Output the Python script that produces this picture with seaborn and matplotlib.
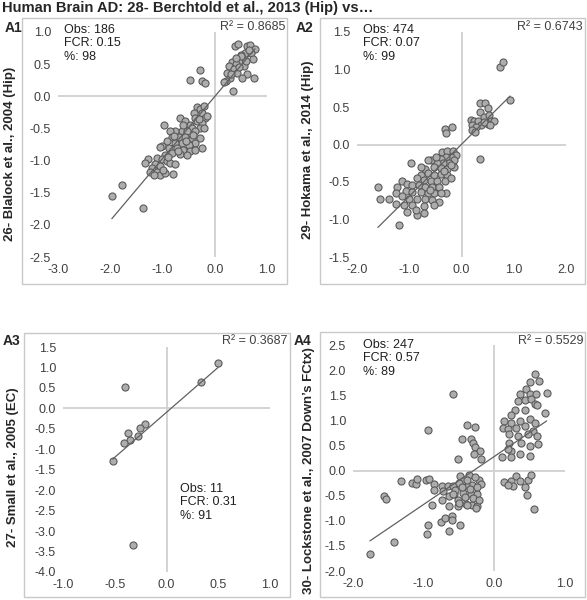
import numpy as np
import pandas as pd
import seaborn as sns
import matplotlib.pyplot as plt
from matplotlib.ticker import FormatStrFormatter

# values, (x, y) per point
a1_points = [(0.38, 0.78), (0.45, 0.81), (0.62, 0.79), (0.67, 0.80), (0.77, 0.73), (0.57, 0.68),
             (0.51, 0.65), (0.69, 0.67), (0.73, 0.58), (0.53, 0.58), (0.46, 0.53), (0.33, 0.53),
             (0.40, 0.50), (0.27, 0.47), (0.56, 0.47), (0.37, 0.42), (0.24, 0.37), (0.43, 0.37),
             (0.62, 0.34), (0.53, 0.28), (0.75, 0.28), (0.30, 0.29), (0.21, 0.24), (0.17, 0.23),
             (0.35, 0.08), (0.47, 0.45), (0.59, 0.55), (0.32, 0.34), (0.50, 0.62), (0.65, 0.72),
             (0.40, 0.60),
             (-0.29, 0.41), (-0.47, 0.26), (-0.24, 0.24), (-0.19, 0.20),
             (-0.34, -0.17), (-0.29, -0.20), (-0.40, -0.26), (-0.24, -0.26), (-0.18, -0.33),
             (-0.37, -0.34), (-0.66, -0.33), (-0.56, -0.39), (-0.47, -0.44), (-0.34, -0.39),
             (-0.24, -0.41), (-0.28, -0.49), (-0.21, -0.49), (-0.44, -0.49), (-0.63, -0.54),
             (-0.76, -0.54), (-0.85, -0.54), (-0.37, -0.54), (-0.53, -0.54), (-0.97, -0.45),
             (-0.82, -0.64), (-0.69, -0.64), (-0.56, -0.64), (-0.44, -0.65), (-0.28, -0.65),
             (-0.24, -0.80), (-0.37, -0.72), (-0.50, -0.75), (-0.63, -0.72), (-0.76, -0.72),
             (-0.92, -0.70), (-1.01, -0.78), (-1.04, -0.79), (-0.88, -0.80), (-0.72, -0.80),
             (-0.60, -0.83), (-0.47, -0.85), (-0.37, -0.83), (-0.82, -0.88), (-0.66, -0.90),
             (-0.53, -0.92), (-0.95, -0.91), (-1.11, -0.96), (-1.01, -0.98), (-0.92, -1.01),
             (-0.85, -1.04), (-0.76, -1.06), (-1.27, -0.98), (-1.33, -1.04), (-1.14, -1.06),
             (-1.04, -1.09), (-1.21, -1.11), (-1.24, -1.17), (-1.11, -1.17), (-1.04, -1.23),
             (-0.95, -1.19), (-1.17, -1.22), (-0.79, -1.21),
             (-0.30, -0.35), (-0.42, -0.60), (-0.55, -0.70), (-0.70, -0.85), (-0.90, -0.95),
             (-0.20, -0.15), (-0.15, -0.30), (-0.60, -0.45), (-0.78, -0.62), (-1.00, -1.15),
             (-1.78, -1.38), (-1.97, -1.55), (-1.37, -1.74)]

a2_points = [(0.74, 1.03), (0.80, 1.10), (0.93, 0.60), (0.36, 0.56), (0.45, 0.56), (0.50, 0.49),
             (0.36, 0.44), (0.19, 0.33), (0.24, 0.32), (0.31, 0.32), (0.44, 0.37), (0.53, 0.39),
             (0.56, 0.32), (0.63, 0.32), (0.50, 0.27), (0.37, 0.26), (0.21, 0.26), (0.28, 0.24),
             (0.21, 0.19), (0.26, 0.17), (0.44, 0.30), (0.55, 0.26),
             (0.35, -0.19), (-0.32, 0.21), (-0.30, 0.15), (-0.19, 0.23),
             (-0.37, -0.10), (-0.27, -0.09), (-0.17, -0.09), (-0.11, -0.14), (-0.21, -0.16),
             (-0.30, -0.16), (-0.40, -0.19), (-0.14, -0.21), (-0.24, -0.24), (-0.35, -0.25),
             (-0.46, -0.25), (-0.59, -0.21), (-0.64, -0.20), (-0.53, -0.30), (-0.40, -0.31),
             (-0.27, -0.32), (-0.15, -0.30), (-0.69, -0.32), (-0.78, -0.30), (-0.96, -0.25),
             (-0.65, -0.38), (-0.53, -0.40), (-0.40, -0.39), (-0.27, -0.40), (-0.78, -0.40),
             (-0.86, -0.45), (-0.72, -0.47), (-0.59, -0.48), (-0.46, -0.48), (-0.32, -0.48),
             (-0.21, -0.45), (-1.13, -0.48), (-1.04, -0.52), (-0.94, -0.54), (-0.81, -0.54),
             (-0.69, -0.56), (-0.56, -0.56), (-0.43, -0.56), (-0.30, -0.64), (-1.23, -0.56),
             (-1.60, -0.57), (-1.07, -0.62), (-0.94, -0.63), (-0.78, -0.63), (-0.65, -0.64),
             (-0.53, -0.65), (-0.40, -0.65), (-1.26, -0.65), (-1.39, -0.72), (-1.56, -0.73),
             (-1.13, -0.69), (-1.01, -0.72), (-0.85, -0.72), (-0.69, -0.73), (-0.56, -0.74),
             (-0.43, -0.76), (-1.26, -0.79), (-1.10, -0.80), (-0.94, -0.81), (-0.72, -0.82),
             (-0.53, -0.81), (-1.04, -0.90), (-0.86, -0.94), (-0.71, -0.91), (-1.20, -1.07),
             (-0.88, -0.87), (-0.49, -0.16), (-0.33, -0.35), (-0.60, -0.60), (-0.20, -0.27)]

a3_points = [(-0.40, 0.52), (0.50, 1.12), (0.33, 0.65), (-0.21, -0.38), (-0.26, -0.47),
             (-0.37, -0.60), (-0.28, -0.68), (-0.35, -0.78), (-0.41, -0.85), (-0.52, -1.29),
             (-0.32, -3.34)]

a4_points = [(-1.76, -1.66), (-1.42, -1.43), (-1.56, -0.50), (-1.54, -0.57), (-1.32, -0.21),
             (-1.17, -0.25), (-1.11, -0.26), (-1.09, -0.16), (-0.97, -0.18), (-0.92, -0.17),
             (-0.86, -0.26), (-0.94, 0.81), (-0.59, 1.53), (-0.52, 0.23), (-0.94, -1.08),
             (-0.95, -1.27), (-0.76, -1.03), (-0.70, -0.95), (-0.64, -1.21), (-0.60, -0.91),
             (-0.88, -0.68), (-0.49, -1.08), (-0.60, -0.98),
             (-0.38, 0.90), (-0.27, 0.87), (-0.46, 0.62), (-0.33, 0.62), (-0.30, 0.54),
             (-0.27, 0.47), (-0.20, 0.39), (-0.29, 0.32), (-0.19, 0.24),
             (-0.74, -0.30), (-0.66, -0.31), (-0.59, -0.31), (-0.85, -0.38), (-0.73, -0.41),
             (-0.64, -0.51), (-0.74, -0.59), (-0.57, -0.47), (-0.52, -0.58), (-0.64, -0.70),
             (-0.52, -0.70), (-0.48, -0.11), (-0.36, -0.08), (-0.21, -0.18), (-0.19, -0.26),
             (-0.31, -0.29), (-0.40, -0.29), (-0.55, -0.38), (-0.45, -0.44), (-0.33, -0.46),
             (-0.24, -0.46), (-0.59, -0.46), (-0.50, -0.65), (-0.40, -0.67), (-0.31, -0.69),
             (-0.24, -0.71), (-0.38, -0.68), (-0.26, -0.75), (-0.44, -0.20), (-0.28, -0.12),
             (-0.50, -0.25), (-0.35, -0.36), (-0.25, -0.33), (-0.42, -0.52), (-0.30, -0.55),
             (-0.22, -0.58), (-0.46, -0.33), (-0.38, -0.18),
             (0.57, 1.92), (0.51, 1.77), (0.63, 1.79), (0.45, 1.63), (0.37, 1.52), (0.50, 1.52),
             (0.59, 1.52), (0.74, 1.55), (0.33, 1.39), (0.43, 1.41), (0.52, 1.42), (0.57, 1.32),
             (0.61, 1.31), (0.44, 1.21), (0.29, 1.21), (0.71, 1.15), (0.24, 1.10), (0.14, 0.99),
             (0.24, 0.95), (0.36, 0.99), (0.50, 1.03), (0.57, 0.95), (0.12, 0.85), (0.19, 0.83),
             (0.31, 0.85), (0.43, 0.89), (0.55, 0.79), (0.21, 0.72), (0.33, 0.69), (0.47, 0.72),
             (0.61, 0.69), (0.62, 0.52), (0.21, 0.55), (0.38, 0.55), (0.50, 0.49), (0.24, 0.39),
             (0.36, 0.33), (0.50, 0.29), (0.23, 0.27), (0.11, 0.27), (0.19, 0.43),
             (0.14, -0.23), (0.24, -0.21), (0.31, -0.11), (0.36, -0.21), (0.43, -0.33),
             (0.48, -0.19), (0.52, -0.08), (0.27, -0.31), (0.19, -0.29), (0.46, -0.48),
             (0.56, -0.76)]

title = "Human Brain AD: 28- Berchtold et al., 2013 (Hip) vs…"
panel_names = ["A1", "A2", "A3", "A4"]
y_labels = ["26- Blalock et al., 2004 (Hip)", "29- Hokama et al., 2014 (Hip)",
            "27- Small et al., 2005 (EC)", "30- Lockstone et al., 2007 Down’s FCtx)"]
r2_labels = ["R² = 0.8685", "R² = 0.6743", "R² = 0.3687", "R² = 0.5529"]
stats_labels = ["Obs: 186\nFCR: 0.15\n%: 98", "Obs: 474\nFCR: 0.07\n%: 99",
                "Obs: 11\nFCR: 0.31\n%: 91", "Obs: 247\nFCR: 0.57\n%: 89"]

sns.set_style("white")
plt.rcParams["font.family"] = ["Liberation Sans", "DejaVu Sans"]
plt.rcParams["axes.unicode_minus"] = False

W, H = 587, 600
fig = plt.figure(figsize=(W / 100, H / 100), dpi=100)


def fx(px):
    return px / W


def fy(py):
    return 1 - py / H


# (axes box in pixels: left, top, right, bottom), frame box, limits, ticks
panels = [
    dict(ax=(58, 32, 267, 257), frame=(22, 18, 287, 284), xlim=(-3, 1), ylim=(-2.5, 1.0),
         xstep=1.0, ystep=0.5, label=(5, 28), ylab=(10, 154), r2=(285, 27), stats=(64, 24)),
    dict(ax=(357, 32, 566, 257), frame=(320, 18, 585, 284), xlim=(-2, 2), ylim=(-1.5, 1.5),
         xstep=1.0, ystep=0.5, label=(296, 28), ylab=(308, 150), r2=(583, 27), stats=(363, 24)),
    dict(ax=(63, 347, 270, 572), frame=(24, 333, 290, 597), xlim=(-1, 1), ylim=(-4.0, 1.5),
         xstep=0.5, ystep=0.5, label=(3, 341), ylab=(13, 467), r2=(287, 341), stats=(180, 483)),
    dict(ax=(353, 345, 565, 571), frame=(320, 332, 585, 597), xlim=(-2, 1), ylim=(-2.0, 2.5),
         xstep=1.0, ystep=0.5, label=(294, 341), ylab=(309, 471), r2=(583, 341), stats=(363, 339)),
]
all_points = [a1_points, a2_points, a3_points, a4_points]

for i, p in enumerate(panels):
    l, t, r, b = p["ax"]
    ax = fig.add_axes([fx(l), fy(b), fx(r) - fx(l), fy(t) - fy(b)])
    df = pd.DataFrame(all_points[i], columns=["x", "y"])

    ax.axhline(0, color="#d0d0d0", lw=1.3, zorder=0)
    ax.axvline(0, color="#d0d0d0", lw=1.3, zorder=0)
    sns.regplot(data=df, x="x", y="y", ax=ax, ci=None,
                scatter_kws=dict(s=26, facecolor="#adadad", edgecolor="#5a5a5a",
                                 linewidths=0.8, alpha=1, zorder=2),
                line_kws=dict(color="#606060", lw=0.9, zorder=3))

    ax.set_xlim(*p["xlim"])
    ax.set_ylim(*p["ylim"])
    ax.set_xticks(np.arange(p["xlim"][0], p["xlim"][1] + 0.01, p["xstep"]))
    ax.set_yticks(np.arange(p["ylim"][0], p["ylim"][1] + 0.01, p["ystep"]))
    ax.xaxis.set_major_formatter(FormatStrFormatter("%.1f"))
    ax.yaxis.set_major_formatter(FormatStrFormatter("%.1f"))
    ax.tick_params(length=0, labelsize=9, labelcolor="#404040", pad=5)
    ax.set_xlabel("")
    ax.set_ylabel("")
    for s in ax.spines.values():
        s.set_visible(False)
    ax.patch.set_alpha(0)

    fl, ft, fr, fb = p["frame"]
    fig.add_artist(plt.Rectangle((fx(fl), fy(fb)), fx(fr) - fx(fl), fy(ft) - fy(fb),
                                 transform=fig.transFigure, fill=False,
                                 edgecolor="#c8c8c8", lw=1))

    fig.text(fx(p["label"][0]), fy(p["label"][1]), panel_names[i], fontsize=10,
             fontweight="bold", ha="left", va="center")
    fig.text(fx(p["ylab"][0]), fy(p["ylab"][1]), y_labels[i], fontsize=9.5,
             fontweight="bold", rotation=90, ha="center", va="center")
    fig.text(fx(p["r2"][0]), fy(p["r2"][1]), r2_labels[i], fontsize=9,
             color="#404040", ha="right", va="center")
    fig.text(fx(p["stats"][0]), fy(p["stats"][1]), stats_labels[i], fontsize=9,
             color="#202020", ha="left", va="top", linespacing=1.15)

fig.text(fx(2), fy(8), title, fontsize=10.6, fontweight="bold", ha="left", va="center")

fig.savefig("out.png", dpi=100)
